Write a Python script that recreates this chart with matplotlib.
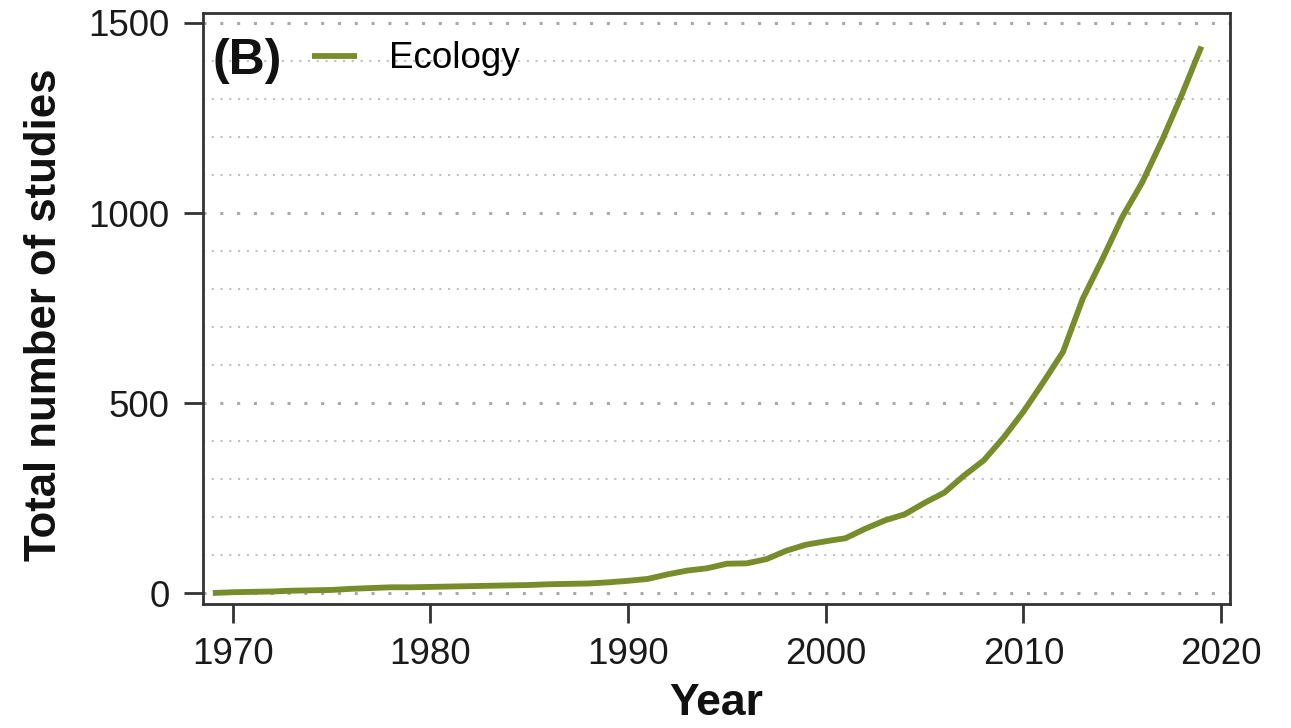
import numpy as np
import matplotlib
matplotlib.use('Agg')
import matplotlib.pyplot as plt
from matplotlib.ticker import MultipleLocator

# cumulative number of ecology studies per year
years = list(range(1969, 2020))
studies = [1, 3, 4, 5, 7, 8, 9, 12, 14, 16,
           16, 17, 18, 19, 20, 21, 22, 24, 25, 26,
           29, 33, 38, 50, 60, 66, 78, 79, 90, 112,
           128, 137, 145, 170, 192, 208, 238, 265, 310, 350,
           410, 478, 555, 635, 775, 880, 990, 1080, 1190, 1310,
           1438]

xticks = [1970, 1980, 1990, 2000, 2010, 2020]
yticks = [0, 500, 1000, 1500]

plt.rcParams['font.family'] = ['Liberation Sans', 'DejaVu Sans']

fig = plt.figure(figsize=(12.91, 7.28), dpi=100)
ax = fig.add_axes([0.1572, 0.1703, 0.7956, 0.8118])

col = '#778C2B'
ax.plot(years, studies, color=col, lw=4.2, solid_capstyle='butt', label='Ecology',
        zorder=3)

ax.set_xlim(1968.5, 2020.45)
ax.set_ylim(-28, 1526)
ax.set_xticks(xticks)
ax.set_yticks(yticks)
ax.yaxis.set_minor_locator(MultipleLocator(100))

# dotted grid: coarse dots at the labelled values, fine dots in between
ax.grid(True, axis='y', which='major', color='#aaaaaa', lw=2.2,
        linestyle=(0, (1, 4.5)))
ax.grid(True, axis='y', which='minor', color='#c0c0c0', lw=1.5,
        linestyle=(0, (1, 3.2)))
ax.set_axisbelow(True)

for s in ax.spines.values():
    s.set_linewidth(2.0)
    s.set_color('#333333')

ax.tick_params(axis='both', which='major', direction='out', length=14, width=2.0,
               color='#333333', labelsize=26.5, labelcolor='#1a1a1a')
ax.tick_params(axis='x', pad=10)
ax.tick_params(axis='y', pad=10)
ax.tick_params(axis='y', which='minor', length=0)

ax.text(0.0097, 0.919, '(B)', transform=ax.transAxes, fontsize=36,
        fontweight='bold', ha='left', va='center', color='#111111')

ax.legend(loc='upper left', bbox_to_anchor=(0.106, 0.952), frameon=False,
          fontsize=26.5, handlelength=1.22, handletextpad=0.87,
          borderpad=0, borderaxespad=0)

fig.text(45/1291, 0.567, 'Total number of studies', rotation=90, fontsize=31.5,
         fontweight='bold', ha='center', va='center', color='#111111')
fig.text(0.555, 0.033, 'Year', fontsize=32, fontweight='bold',
         ha='center', va='center', color='#111111')

fig.savefig('out.png', dpi=100)
